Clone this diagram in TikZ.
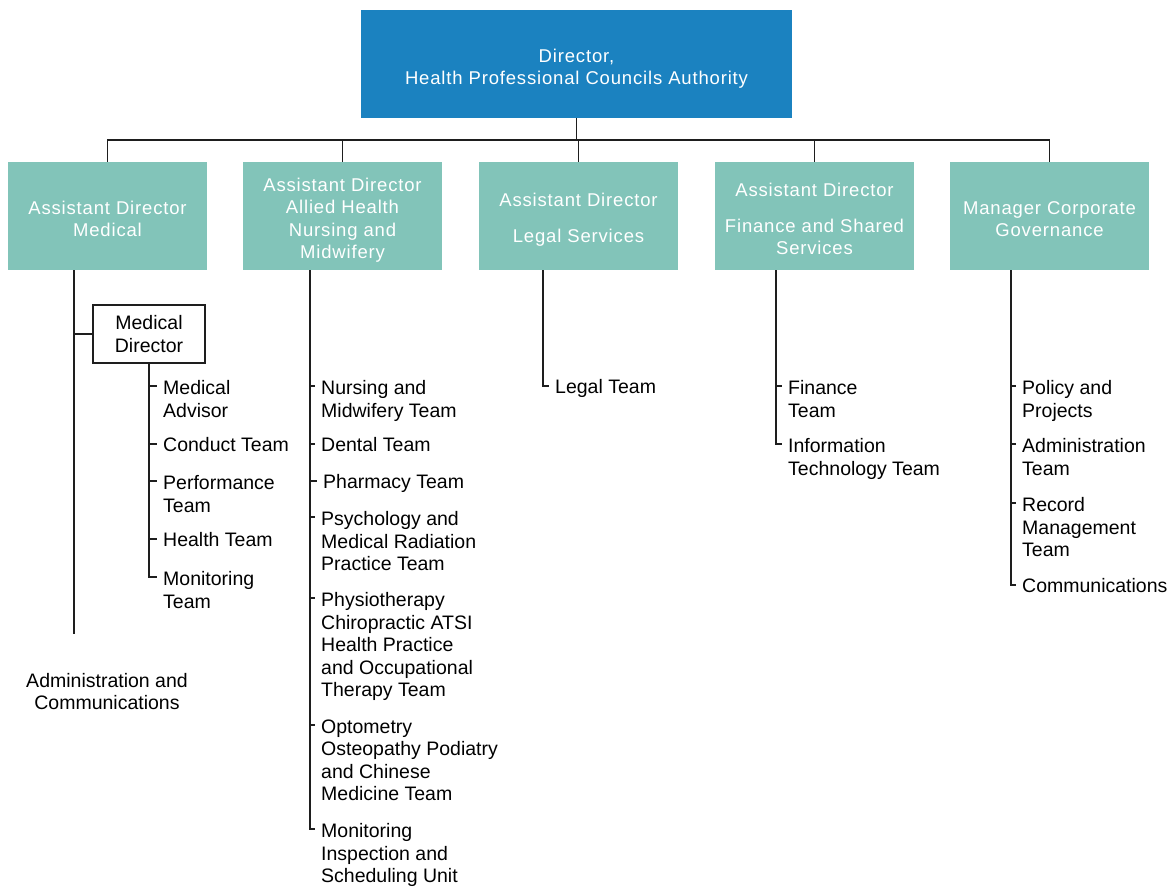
\documentclass[tikz,border=0pt]{standalone}
\usepackage{fontspec}
\setmainfont{Liberation Sans}
\definecolor{topblue}{RGB}{27,130,192}
\definecolor{tealbox}{RGB}{130,196,185}
\definecolor{linec}{RGB}{30,30,30}
\newcommand\lblfont{\fontsize{19.5}{22.5}\selectfont}
\newcommand\boxfont{\fontsize{18.5}{22.5}\selectfont\addfontfeature{LetterSpace=4.5}}
\begin{document}
\begin{tikzpicture}[x=1pt,y=-1pt,
  conn/.style={draw=linec, line width=1.3pt},
  topbox/.style={fill=topblue, minimum width=431pt, minimum height=108pt, inner sep=0pt},
  subbox/.style={fill=tealbox, minimum width=199pt, minimum height=108pt, inner sep=0pt},
  boxtext/.style={text=white, inner sep=0pt, align=center, font=\boxfont},
  mdbox/.style={draw=linec, line width=1.1pt, fill=white, minimum width=112pt, minimum height=58pt, inner sep=0pt, align=center, font=\lblfont},
  lbl/.style={anchor=north west, inner sep=0pt, align=left, font=\lblfont, execute at begin node=\strut}]
% single-line label: name, x, line centre, text
\newcommand\lbl[4]{\node[lbl] (#1) at (#2,#3-8.75) {#4}; \coordinate (#1t) at (#2-6,#3);}
% multi-line label
\newcommand\lblm[4]{\node[lbl] (#1) at (#2,#3-5.75) {#4}; \coordinate (#1t) at (#2-6,#3);}
\useasboundingbox (0,0) rectangle (1176,887);
% boxes
\node[topbox] (top) at (576.5,64) {};
\node[boxtext] (topt) at ([yshift=-4.5pt]top.center) {Director,\\Health Professional Councils Authority};
\node[subbox] (b1) at (107.5,216) {};
\node[subbox] (b2) at (342.5,216) {};
\node[subbox] (b3) at (578.5,216) {};
\node[subbox] (b4) at (814.5,216) {};
\node[subbox] (b5) at (1049.5,216) {};
\node[boxtext] (b1t) at ([yshift=-3pt]b1.center) {Assistant Director\\Medical};
\node[boxtext] (b2t) at ([yshift=-4pt]b2.center) {Assistant Director\\Allied Health\\Nursing and\\Midwifery};
\node[boxtext] (b3t) at ([yshift=-4pt]b3.center) {Assistant Director\\[13.5pt]Legal Services};
\node[boxtext] (b4t) at ([yshift=-3pt]b4.center) {Assistant Director\\[13.5pt]Finance and Shared\\Services};
\node[boxtext] (b5t) at ([yshift=-3pt]b5.center) {Manager Corporate\\Governance};
\node[mdbox] (md) at (149,334) {Medical\\Director};
% bus
\coordinate (bus) at (0,140);
\draw[conn] (top.south) -- (top.south |- bus);
\draw[conn] (b1.north) -- (b1.north |- bus) -- (bus -| b5.north) -- (b5.north);
\draw[conn] (b2.north) -- (b2.north |- bus);
\draw[conn] (b3.north) -- (b3.north |- bus);
\draw[conn] (b4.north) -- (b4.north |- bus);
% labels
\lblm{ma}{163}{386}{Medical\\Advisor}
\lbl{ct}{163}{444}{Conduct Team}
\lblm{pt}{163}{481}{Performance\\Team}
\lbl{ht}{163}{539}{Health Team}
\lblm{mt}{163}{577}{Monitoring\\Team}
\lblm{aa}{321}{386}{Nursing and\\Midwifery Team}
\lbl{ab}{321}{444}{Dental Team}
\lbl{ac}{323}{481}{Pharmacy Team}
\lblm{ad}{321}{517}{Psychology and\\Medical Radiation\\Practice Team}
\lblm{ae}{321}{598}{Physiotherapy\\Chiropractic ATSI\\Health Practice\\and Occupational\\Therapy Team}
\lblm{af}{321}{725}{Optometry\\Osteopathy Podiatry\\and Chinese\\Medicine Team}
\lblm{ag}{321}{829}{Monitoring\\Inspection and\\Scheduling Unit}
\lbl{lg}{555}{386}{Legal Team}
\lblm{fi}{788}{386}{Finance\\Team}
\lblm{it}{788}{444}{Information\\Technology Team}
\lblm{pp}{1022}{386}{Policy and\\Projects}
\lblm{at}{1022}{444}{Administration\\Team}
\lblm{rm}{1022}{503}{Record\\Management\\Team}
\lbl{cm}{1022}{585}{Communications}
\node[align=center, font=\lblfont, inner sep=0pt] (adm) at (107,691.5) {Administration and\\Communications};
% spines
\coordinate (s1) at (74,634);
\coordinate (s2) at (310,270);
\coordinate (s3) at (543,270);
\coordinate (s4) at (776,270);
\coordinate (s5) at (1011,270);
\draw[conn] (b1.south -| s1) -- (s1);
\draw[conn] (md.west) -- (md.west -| s1);
\draw[conn] (md.south) |- (mtt);
\foreach \n in {ma,ct,pt,ht} \draw[conn] (\n t -| md.south) -- (\n t);
\draw[conn] (b2.south -| s2) |- (agt);
\foreach \n in {aa,ab,ac,ad,ae,af} \draw[conn] (\n t -| s2) -- (\n t);
\draw[conn] (b3.south -| s3) |- (lgt);
\draw[conn] (b4.south -| s4) |- (itt);
\draw[conn] (fit -| s4) -- (fit);
\draw[conn] (b5.south -| s5) |- (cmt);
\foreach \n in {pp,at,rm} \draw[conn] (\n t -| s5) -- (\n t);
\end{tikzpicture}
\end{document}
